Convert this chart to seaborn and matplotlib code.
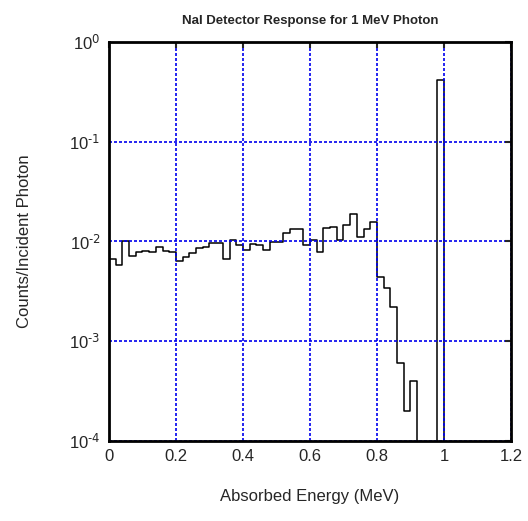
import numpy as np
import pandas as pd
import matplotlib
matplotlib.use("Agg")
import matplotlib.pyplot as plt
import seaborn as sns

# Pulse height spectrum, 0.02 MeV bins from 0 to 1.0 MeV (plus an empty bin so the line drops at 1 MeV)
bin_edges = [round(0.02 * i, 2) for i in range(52)]
counts = [
    6.7e-3, 5.8e-3, 1.0e-2, 7.2e-3, 7.9e-3, 8.1e-3, 7.9e-3, 8.8e-3, 8.1e-3, 7.9e-3,
    6.3e-3, 7.0e-3, 7.7e-3, 8.6e-3, 8.8e-3, 9.7e-3, 9.7e-3, 6.7e-3, 1.03e-2, 9.3e-3,
    8.3e-3, 9.5e-3, 9.3e-3, 8.3e-3, 9.8e-3, 9.8e-3, 1.22e-2, 1.34e-2, 1.34e-2, 9.3e-3,
    1.03e-2, 7.9e-3, 1.37e-2, 1.40e-2, 1.03e-2, 1.48e-2, 1.89e-2, 1.11e-2, 1.34e-2, 1.57e-2,
    4.4e-3, 3.4e-3, 2.22e-3, 6.0e-4, 1.98e-4, 4.0e-4, 0.0, 0.0, 0.0, 0.414,
    0.0,
]
xticks = [0, 0.2, 0.4, 0.6, 0.8, 1.0, 1.2]
xtick_labels = ["0", "0.2", "0.4", "0.6", "0.8", "1", "1.2"]
yticks = [1e-4, 1e-3, 1e-2, 1e-1, 1]
yexps = ["-4", "-3", "-2", "-1", "0"]

centers = [(bin_edges[i] + bin_edges[i + 1]) / 2 for i in range(len(counts))]
df = pd.DataFrame({"energy": centers, "counts": counts})

sns.set_style("white")
plt.rcParams["font.family"] = ["Liberation Sans", "DejaVu Sans"]

fig = plt.figure(figsize=(5.28, 5.21), dpi=100)
ax = fig.add_axes([0.2064, 0.1536, 0.7614, 0.7658])

sns.histplot(data=df, x="energy", weights="counts", bins=bin_edges,
             element="step", fill=False, color="black", linewidth=1.1, ax=ax)

ax.set_yscale("log", nonpositive="clip")
ax.set_ylim(1e-4, 1)
ax.set_xlim(0, 1.2)
ax.set_xticks(xticks)
ax.set_xticklabels(xtick_labels)
ax.set_yticks(yticks)
# hyphen rather than a proper minus, like the original
ax.set_yticklabels([r"$\mathregular{10^{\text{" + e + "}}}$" for e in yexps])
ax.minorticks_off()

ax.grid(True, color="#0000ee", linestyle=(0, (1.8, 1.2)), linewidth=1.2)
ax.set_axisbelow(False)
for s in ax.spines.values():
    s.set_linewidth(2)
    s.set_color("black")
    s.set_zorder(5)

ax.tick_params(direction="in", length=4, width=1.5, top=True, right=True,
               labelsize=12, pad=6)

ax.set_xlabel("Absorbed Energy (MeV)", fontsize=12, labelpad=18)
ax.set_ylabel("Counts/Incident Photon", fontsize=12, labelpad=27)
ax.set_title("NaI Detector Response for 1 MeV Photon", fontsize=9.5,
             fontweight="bold", pad=13)

fig.savefig("out.png", dpi=100)
